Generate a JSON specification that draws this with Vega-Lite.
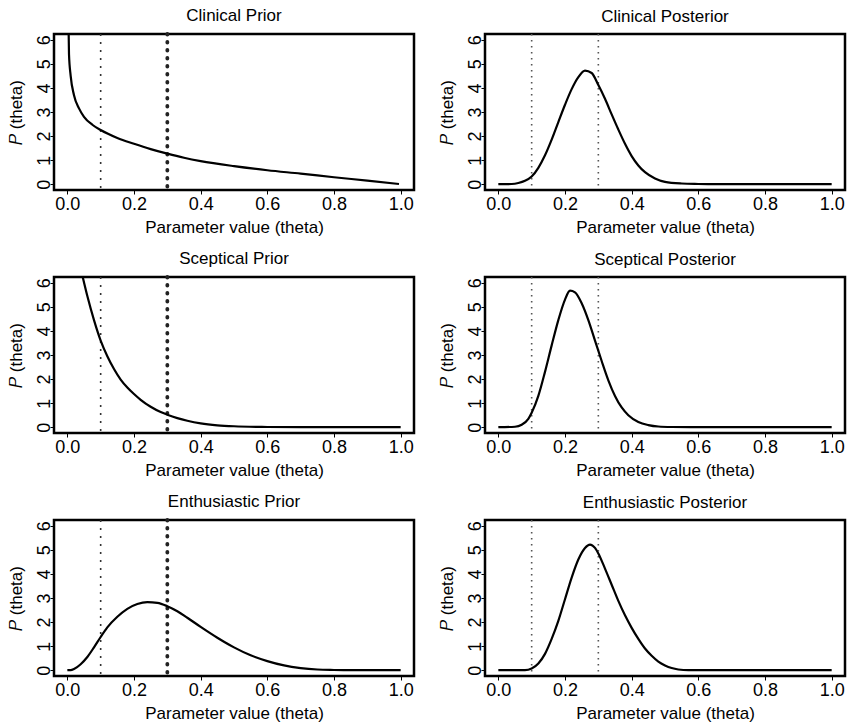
{
  "$schema": "https://vega.github.io/schema/vega-lite/v6.json",
  "padding": {"left": 5, "top": 5, "right": 5, "bottom": 5},
  "background": "white",
  "datasets": {
    "curves": [
      {"panel": "Clinical Prior", "theta": 0.002, "p": 8.0},
      {"panel": "Clinical Prior", "theta": 0.005, "p": 5.4},
      {"panel": "Clinical Prior", "theta": 0.01, "p": 4.5},
      {"panel": "Clinical Prior", "theta": 0.02, "p": 3.7},
      {"panel": "Clinical Prior", "theta": 0.035, "p": 3.15},
      {"panel": "Clinical Prior", "theta": 0.05, "p": 2.8},
      {"panel": "Clinical Prior", "theta": 0.075, "p": 2.47},
      {"panel": "Clinical Prior", "theta": 0.1, "p": 2.25},
      {"panel": "Clinical Prior", "theta": 0.15, "p": 1.92},
      {"panel": "Clinical Prior", "theta": 0.2, "p": 1.68},
      {"panel": "Clinical Prior", "theta": 0.25, "p": 1.46},
      {"panel": "Clinical Prior", "theta": 0.3, "p": 1.27},
      {"panel": "Clinical Prior", "theta": 0.35, "p": 1.1},
      {"panel": "Clinical Prior", "theta": 0.4, "p": 0.96},
      {"panel": "Clinical Prior", "theta": 0.5, "p": 0.75},
      {"panel": "Clinical Prior", "theta": 0.6, "p": 0.58},
      {"panel": "Clinical Prior", "theta": 0.7, "p": 0.44},
      {"panel": "Clinical Prior", "theta": 0.8, "p": 0.29},
      {"panel": "Clinical Prior", "theta": 0.9, "p": 0.15},
      {"panel": "Clinical Prior", "theta": 0.995, "p": 0.01},

      {"panel": "Clinical Posterior", "theta": 0.0, "p": 0.0},
      {"panel": "Clinical Posterior", "theta": 0.04, "p": 0.01},
      {"panel": "Clinical Posterior", "theta": 0.06, "p": 0.05},
      {"panel": "Clinical Posterior", "theta": 0.08, "p": 0.14},
      {"panel": "Clinical Posterior", "theta": 0.1, "p": 0.32},
      {"panel": "Clinical Posterior", "theta": 0.12, "p": 0.68},
      {"panel": "Clinical Posterior", "theta": 0.14, "p": 1.2},
      {"panel": "Clinical Posterior", "theta": 0.16, "p": 1.85},
      {"panel": "Clinical Posterior", "theta": 0.18, "p": 2.58},
      {"panel": "Clinical Posterior", "theta": 0.2, "p": 3.3},
      {"panel": "Clinical Posterior", "theta": 0.22, "p": 3.95},
      {"panel": "Clinical Posterior", "theta": 0.24, "p": 4.45},
      {"panel": "Clinical Posterior", "theta": 0.26, "p": 4.72},
      {"panel": "Clinical Posterior", "theta": 0.28, "p": 4.62},
      {"panel": "Clinical Posterior", "theta": 0.3, "p": 4.12},
      {"panel": "Clinical Posterior", "theta": 0.32, "p": 3.55},
      {"panel": "Clinical Posterior", "theta": 0.34, "p": 2.9},
      {"panel": "Clinical Posterior", "theta": 0.36, "p": 2.27},
      {"panel": "Clinical Posterior", "theta": 0.38, "p": 1.68},
      {"panel": "Clinical Posterior", "theta": 0.4, "p": 1.17},
      {"panel": "Clinical Posterior", "theta": 0.42, "p": 0.78},
      {"panel": "Clinical Posterior", "theta": 0.44, "p": 0.5},
      {"panel": "Clinical Posterior", "theta": 0.47, "p": 0.24},
      {"panel": "Clinical Posterior", "theta": 0.5, "p": 0.1},
      {"panel": "Clinical Posterior", "theta": 0.55, "p": 0.03},
      {"panel": "Clinical Posterior", "theta": 0.6, "p": 0.01},
      {"panel": "Clinical Posterior", "theta": 0.65, "p": 0.0},
      {"panel": "Clinical Posterior", "theta": 0.8, "p": 0.0},
      {"panel": "Clinical Posterior", "theta": 1.0, "p": 0.0},

      {"panel": "Sceptical Prior", "theta": 0.0, "p": 8.8},
      {"panel": "Sceptical Prior", "theta": 0.02, "p": 7.8},
      {"panel": "Sceptical Prior", "theta": 0.04, "p": 6.6},
      {"panel": "Sceptical Prior", "theta": 0.06, "p": 5.45},
      {"panel": "Sceptical Prior", "theta": 0.08, "p": 4.45},
      {"panel": "Sceptical Prior", "theta": 0.1, "p": 3.6},
      {"panel": "Sceptical Prior", "theta": 0.12, "p": 2.95},
      {"panel": "Sceptical Prior", "theta": 0.14, "p": 2.42},
      {"panel": "Sceptical Prior", "theta": 0.16, "p": 1.98},
      {"panel": "Sceptical Prior", "theta": 0.18, "p": 1.65},
      {"panel": "Sceptical Prior", "theta": 0.2, "p": 1.38},
      {"panel": "Sceptical Prior", "theta": 0.22, "p": 1.14},
      {"panel": "Sceptical Prior", "theta": 0.25, "p": 0.85},
      {"panel": "Sceptical Prior", "theta": 0.28, "p": 0.63},
      {"panel": "Sceptical Prior", "theta": 0.3, "p": 0.52},
      {"panel": "Sceptical Prior", "theta": 0.33, "p": 0.38},
      {"panel": "Sceptical Prior", "theta": 0.36, "p": 0.27},
      {"panel": "Sceptical Prior", "theta": 0.4, "p": 0.16},
      {"panel": "Sceptical Prior", "theta": 0.45, "p": 0.08},
      {"panel": "Sceptical Prior", "theta": 0.5, "p": 0.04},
      {"panel": "Sceptical Prior", "theta": 0.6, "p": 0.01},
      {"panel": "Sceptical Prior", "theta": 0.7, "p": 0.0},
      {"panel": "Sceptical Prior", "theta": 1.0, "p": 0.0},

      {"panel": "Sceptical Posterior", "theta": 0.0, "p": 0.0},
      {"panel": "Sceptical Posterior", "theta": 0.05, "p": 0.02},
      {"panel": "Sceptical Posterior", "theta": 0.07, "p": 0.1},
      {"panel": "Sceptical Posterior", "theta": 0.09, "p": 0.35},
      {"panel": "Sceptical Posterior", "theta": 0.1, "p": 0.6},
      {"panel": "Sceptical Posterior", "theta": 0.12, "p": 1.3},
      {"panel": "Sceptical Posterior", "theta": 0.14, "p": 2.3},
      {"panel": "Sceptical Posterior", "theta": 0.16, "p": 3.4},
      {"panel": "Sceptical Posterior", "theta": 0.18, "p": 4.45},
      {"panel": "Sceptical Posterior", "theta": 0.2, "p": 5.3},
      {"panel": "Sceptical Posterior", "theta": 0.215, "p": 5.67},
      {"panel": "Sceptical Posterior", "theta": 0.23, "p": 5.6},
      {"panel": "Sceptical Posterior", "theta": 0.25, "p": 5.15},
      {"panel": "Sceptical Posterior", "theta": 0.27, "p": 4.45},
      {"panel": "Sceptical Posterior", "theta": 0.29, "p": 3.6},
      {"panel": "Sceptical Posterior", "theta": 0.31, "p": 2.75},
      {"panel": "Sceptical Posterior", "theta": 0.33, "p": 1.95},
      {"panel": "Sceptical Posterior", "theta": 0.35, "p": 1.3},
      {"panel": "Sceptical Posterior", "theta": 0.37, "p": 0.82},
      {"panel": "Sceptical Posterior", "theta": 0.39, "p": 0.5},
      {"panel": "Sceptical Posterior", "theta": 0.42, "p": 0.22},
      {"panel": "Sceptical Posterior", "theta": 0.45, "p": 0.09},
      {"panel": "Sceptical Posterior", "theta": 0.48, "p": 0.03},
      {"panel": "Sceptical Posterior", "theta": 0.52, "p": 0.01},
      {"panel": "Sceptical Posterior", "theta": 0.6, "p": 0.0},
      {"panel": "Sceptical Posterior", "theta": 1.0, "p": 0.0},

      {"panel": "Enthusiastic Prior", "theta": 0.0, "p": 0.0},
      {"panel": "Enthusiastic Prior", "theta": 0.01, "p": 0.0},
      {"panel": "Enthusiastic Prior", "theta": 0.02, "p": 0.05},
      {"panel": "Enthusiastic Prior", "theta": 0.04, "p": 0.25},
      {"panel": "Enthusiastic Prior", "theta": 0.06, "p": 0.55},
      {"panel": "Enthusiastic Prior", "theta": 0.08, "p": 0.95},
      {"panel": "Enthusiastic Prior", "theta": 0.1, "p": 1.38},
      {"panel": "Enthusiastic Prior", "theta": 0.12, "p": 1.78},
      {"panel": "Enthusiastic Prior", "theta": 0.15, "p": 2.22},
      {"panel": "Enthusiastic Prior", "theta": 0.18, "p": 2.55},
      {"panel": "Enthusiastic Prior", "theta": 0.21, "p": 2.75},
      {"panel": "Enthusiastic Prior", "theta": 0.24, "p": 2.83},
      {"panel": "Enthusiastic Prior", "theta": 0.27, "p": 2.8},
      {"panel": "Enthusiastic Prior", "theta": 0.3, "p": 2.66},
      {"panel": "Enthusiastic Prior", "theta": 0.33, "p": 2.45},
      {"panel": "Enthusiastic Prior", "theta": 0.36, "p": 2.18},
      {"panel": "Enthusiastic Prior", "theta": 0.4, "p": 1.8},
      {"panel": "Enthusiastic Prior", "theta": 0.45, "p": 1.35},
      {"panel": "Enthusiastic Prior", "theta": 0.5, "p": 0.95},
      {"panel": "Enthusiastic Prior", "theta": 0.55, "p": 0.62},
      {"panel": "Enthusiastic Prior", "theta": 0.6, "p": 0.38},
      {"panel": "Enthusiastic Prior", "theta": 0.65, "p": 0.2},
      {"panel": "Enthusiastic Prior", "theta": 0.7, "p": 0.09},
      {"panel": "Enthusiastic Prior", "theta": 0.75, "p": 0.03},
      {"panel": "Enthusiastic Prior", "theta": 0.8, "p": 0.01},
      {"panel": "Enthusiastic Prior", "theta": 0.85, "p": 0.0},
      {"panel": "Enthusiastic Prior", "theta": 1.0, "p": 0.0},

      {"panel": "Enthusiastic Posterior", "theta": 0.0, "p": 0.0},
      {"panel": "Enthusiastic Posterior", "theta": 0.08, "p": 0.0},
      {"panel": "Enthusiastic Posterior", "theta": 0.1, "p": 0.07},
      {"panel": "Enthusiastic Posterior", "theta": 0.12, "p": 0.28},
      {"panel": "Enthusiastic Posterior", "theta": 0.14, "p": 0.68},
      {"panel": "Enthusiastic Posterior", "theta": 0.16, "p": 1.3},
      {"panel": "Enthusiastic Posterior", "theta": 0.18, "p": 2.05},
      {"panel": "Enthusiastic Posterior", "theta": 0.2, "p": 2.95},
      {"panel": "Enthusiastic Posterior", "theta": 0.22, "p": 3.85},
      {"panel": "Enthusiastic Posterior", "theta": 0.24, "p": 4.6},
      {"panel": "Enthusiastic Posterior", "theta": 0.26, "p": 5.08},
      {"panel": "Enthusiastic Posterior", "theta": 0.275, "p": 5.22},
      {"panel": "Enthusiastic Posterior", "theta": 0.29, "p": 5.08},
      {"panel": "Enthusiastic Posterior", "theta": 0.3, "p": 4.85},
      {"panel": "Enthusiastic Posterior", "theta": 0.32, "p": 4.22},
      {"panel": "Enthusiastic Posterior", "theta": 0.34, "p": 3.55},
      {"panel": "Enthusiastic Posterior", "theta": 0.36, "p": 2.88},
      {"panel": "Enthusiastic Posterior", "theta": 0.38, "p": 2.28},
      {"panel": "Enthusiastic Posterior", "theta": 0.4, "p": 1.76},
      {"panel": "Enthusiastic Posterior", "theta": 0.42, "p": 1.3},
      {"panel": "Enthusiastic Posterior", "theta": 0.44, "p": 0.9},
      {"panel": "Enthusiastic Posterior", "theta": 0.46, "p": 0.6},
      {"panel": "Enthusiastic Posterior", "theta": 0.48, "p": 0.36},
      {"panel": "Enthusiastic Posterior", "theta": 0.5, "p": 0.2},
      {"panel": "Enthusiastic Posterior", "theta": 0.52, "p": 0.09},
      {"panel": "Enthusiastic Posterior", "theta": 0.54, "p": 0.03},
      {"panel": "Enthusiastic Posterior", "theta": 0.57, "p": 0.0},
      {"panel": "Enthusiastic Posterior", "theta": 1.0, "p": 0.0}
    ],
    "refs": [
      {"panel": "Clinical Prior", "theta": 0.1},
      {"panel": "Clinical Prior", "theta": 0.3},
      {"panel": "Clinical Posterior", "theta": 0.1},
      {"panel": "Clinical Posterior", "theta": 0.3},
      {"panel": "Sceptical Prior", "theta": 0.1},
      {"panel": "Sceptical Prior", "theta": 0.3},
      {"panel": "Sceptical Posterior", "theta": 0.1},
      {"panel": "Sceptical Posterior", "theta": 0.3},
      {"panel": "Enthusiastic Prior", "theta": 0.1},
      {"panel": "Enthusiastic Prior", "theta": 0.3},
      {"panel": "Enthusiastic Posterior", "theta": 0.1},
      {"panel": "Enthusiastic Posterior", "theta": 0.3}
    ]
  },
  "config": {
    "font": "Liberation Sans",
    "view": {"stroke": "black", "strokeWidth": 2.5},
    "title": {"fontSize": 17, "fontWeight": "normal", "color": "black", "offset": 7, "font": "Liberation Sans"},
    "axis": {
      "grid": false, "domain": false, "tickColor": "black", "tickSize": 4, "tickWidth": 1,
      "labelFont": "Liberation Sans", "labelFontSize": 18, "labelColor": "black",
      "titleFont": "Liberation Sans", "titleFontSize": 17, "titleFontWeight": "normal", "titleColor": "black"
    },
    "axisX": {"labelPadding": 1, "titlePadding": 6},
    "axisY": {"labelAngle": 270, "labelAlign": "center", "labelBaseline": "alphabetic", "labelPadding": 1, "titlePadding": 10}
  },
  "spacing": 11,
  "vconcat": [
    {"spacing": 20, "hconcat": [
      {"title": "Clinical Prior", "width": 360, "height": 156,
       "encoding": {"x": {"field": "theta", "type": "quantitative", "title": "Parameter value (theta)", "scale": {"domain": [-0.04, 1.04], "nice": false, "zero": false}, "axis": {"format": ".1f", "values": [0, 0.2, 0.4, 0.6, 0.8, 1]}}},
       "layer": [
         {"data": {"name": "refs"}, "transform": [{"filter": "datum.panel == 'Clinical Prior' && datum.theta < 0.2"}], "mark": {"type": "rule", "strokeDash": [2, 6], "strokeWidth": 1.6, "color": "#333"}, "encoding": {}},
         {"data": {"name": "refs"}, "transform": [{"filter": "datum.panel == 'Clinical Prior' && datum.theta > 0.2"}], "mark": {"type": "rule", "strokeDash": [0.5, 7.5], "strokeCap": "round", "strokeWidth": 3.8, "color": "#222"}, "encoding": {}},
         {"data": {"name": "curves"}, "transform": [{"filter": "datum.panel == 'Clinical Prior'"}], "mark": {"type": "line", "color": "black", "strokeWidth": 2.2, "interpolate": "monotone", "clip": true},
          "encoding": {"y": {"field": "p", "type": "quantitative", "title": "𝑃 (theta)", "scale": {"domain": [-0.24, 6.24], "nice": false, "zero": false}, "axis": {"format": "d", "values": [0, 1, 2, 3, 4, 5, 6]}}}}
       ]},
      {"title": "Clinical Posterior", "width": 360, "height": 156,
       "encoding": {"x": {"field": "theta", "type": "quantitative", "title": "Parameter value (theta)", "scale": {"domain": [-0.04, 1.04], "nice": false, "zero": false}, "axis": {"format": ".1f", "values": [0, 0.2, 0.4, 0.6, 0.8, 1]}}},
       "layer": [
         {"data": {"name": "refs"}, "transform": [{"filter": "datum.panel == 'Clinical Posterior'"}], "mark": {"type": "rule", "strokeDash": [1.5, 4.5], "strokeWidth": 1.6, "color": "#555"}, "encoding": {}},
         {"data": {"name": "curves"}, "transform": [{"filter": "datum.panel == 'Clinical Posterior'"}], "mark": {"type": "line", "color": "black", "strokeWidth": 2.2, "interpolate": "monotone", "clip": true},
          "encoding": {"y": {"field": "p", "type": "quantitative", "title": "𝑃 (theta)", "scale": {"domain": [-0.24, 6.24], "nice": false, "zero": false}, "axis": {"format": "d", "values": [0, 1, 2, 3, 4, 5, 6]}}}}
       ]}
    ]},
    {"spacing": 20, "hconcat": [
      {"title": "Sceptical Prior", "width": 360, "height": 156,
       "encoding": {"x": {"field": "theta", "type": "quantitative", "title": "Parameter value (theta)", "scale": {"domain": [-0.04, 1.04], "nice": false, "zero": false}, "axis": {"format": ".1f", "values": [0, 0.2, 0.4, 0.6, 0.8, 1]}}},
       "layer": [
         {"data": {"name": "refs"}, "transform": [{"filter": "datum.panel == 'Sceptical Prior' && datum.theta < 0.2"}], "mark": {"type": "rule", "strokeDash": [2, 6], "strokeWidth": 1.6, "color": "#333"}, "encoding": {}},
         {"data": {"name": "refs"}, "transform": [{"filter": "datum.panel == 'Sceptical Prior' && datum.theta > 0.2"}], "mark": {"type": "rule", "strokeDash": [0.5, 7.5], "strokeCap": "round", "strokeWidth": 3.8, "color": "#222"}, "encoding": {}},
         {"data": {"name": "curves"}, "transform": [{"filter": "datum.panel == 'Sceptical Prior'"}], "mark": {"type": "line", "color": "black", "strokeWidth": 2.2, "interpolate": "monotone", "clip": true},
          "encoding": {"y": {"field": "p", "type": "quantitative", "title": "𝑃 (theta)", "scale": {"domain": [-0.24, 6.24], "nice": false, "zero": false}, "axis": {"format": "d", "values": [0, 1, 2, 3, 4, 5, 6]}}}}
       ]},
      {"title": "Sceptical Posterior", "width": 360, "height": 156,
       "encoding": {"x": {"field": "theta", "type": "quantitative", "title": "Parameter value (theta)", "scale": {"domain": [-0.04, 1.04], "nice": false, "zero": false}, "axis": {"format": ".1f", "values": [0, 0.2, 0.4, 0.6, 0.8, 1]}}},
       "layer": [
         {"data": {"name": "refs"}, "transform": [{"filter": "datum.panel == 'Sceptical Posterior'"}], "mark": {"type": "rule", "strokeDash": [1.5, 4.5], "strokeWidth": 1.6, "color": "#555"}, "encoding": {}},
         {"data": {"name": "curves"}, "transform": [{"filter": "datum.panel == 'Sceptical Posterior'"}], "mark": {"type": "line", "color": "black", "strokeWidth": 2.2, "interpolate": "monotone", "clip": true},
          "encoding": {"y": {"field": "p", "type": "quantitative", "title": "𝑃 (theta)", "scale": {"domain": [-0.24, 6.24], "nice": false, "zero": false}, "axis": {"format": "d", "values": [0, 1, 2, 3, 4, 5, 6]}}}}
       ]}
    ]},
    {"spacing": 20, "hconcat": [
      {"title": "Enthusiastic Prior", "width": 360, "height": 156,
       "encoding": {"x": {"field": "theta", "type": "quantitative", "title": "Parameter value (theta)", "scale": {"domain": [-0.04, 1.04], "nice": false, "zero": false}, "axis": {"format": ".1f", "values": [0, 0.2, 0.4, 0.6, 0.8, 1]}}},
       "layer": [
         {"data": {"name": "refs"}, "transform": [{"filter": "datum.panel == 'Enthusiastic Prior' && datum.theta < 0.2"}], "mark": {"type": "rule", "strokeDash": [2, 6], "strokeWidth": 1.6, "color": "#333"}, "encoding": {}},
         {"data": {"name": "refs"}, "transform": [{"filter": "datum.panel == 'Enthusiastic Prior' && datum.theta > 0.2"}], "mark": {"type": "rule", "strokeDash": [0.5, 7.5], "strokeCap": "round", "strokeWidth": 3.8, "color": "#222"}, "encoding": {}},
         {"data": {"name": "curves"}, "transform": [{"filter": "datum.panel == 'Enthusiastic Prior'"}], "mark": {"type": "line", "color": "black", "strokeWidth": 2.2, "interpolate": "monotone", "clip": true},
          "encoding": {"y": {"field": "p", "type": "quantitative", "title": "𝑃 (theta)", "scale": {"domain": [-0.24, 6.24], "nice": false, "zero": false}, "axis": {"format": "d", "values": [0, 1, 2, 3, 4, 5, 6]}}}}
       ]},
      {"title": "Enthusiastic Posterior", "width": 360, "height": 156,
       "encoding": {"x": {"field": "theta", "type": "quantitative", "title": "Parameter value (theta)", "scale": {"domain": [-0.04, 1.04], "nice": false, "zero": false}, "axis": {"format": ".1f", "values": [0, 0.2, 0.4, 0.6, 0.8, 1]}}},
       "layer": [
         {"data": {"name": "refs"}, "transform": [{"filter": "datum.panel == 'Enthusiastic Posterior'"}], "mark": {"type": "rule", "strokeDash": [1.5, 4.5], "strokeWidth": 1.6, "color": "#555"}, "encoding": {}},
         {"data": {"name": "curves"}, "transform": [{"filter": "datum.panel == 'Enthusiastic Posterior'"}], "mark": {"type": "line", "color": "black", "strokeWidth": 2.2, "interpolate": "monotone", "clip": true},
          "encoding": {"y": {"field": "p", "type": "quantitative", "title": "𝑃 (theta)", "scale": {"domain": [-0.24, 6.24], "nice": false, "zero": false}, "axis": {"format": "d", "values": [0, 1, 2, 3, 4, 5, 6]}}}}
       ]}
    ]}
  ]
}
